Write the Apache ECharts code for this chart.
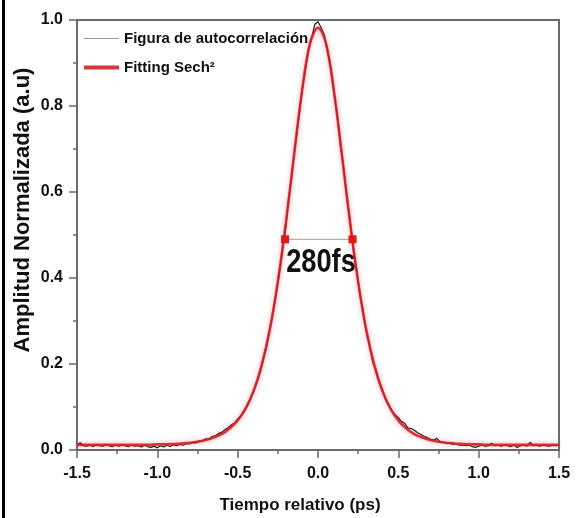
<!DOCTYPE html>
<html>
<head>
<meta charset="utf-8">
<script src="https://cdn.jsdelivr.net/npm/echarts@6/dist/echarts.min.js"></script>
<style>
  html, body { margin: 0; padding: 0; background: #fff; }
  #chart { width: 583px; height: 518px; }
</style>
</head>
<body>
<div id="chart"></div>
<script>
// datos
var seriesNames = ['Figura de autocorrelación', 'Fitting Sech²'];
var xTicks = [-1.5, -1.0, -0.5, 0.0, 0.5, 1.0, 1.5];
var yTicks = [0.0, 0.2, 0.4, 0.6, 0.8, 1.0];

// traza medida, paso 0.02 ps desde -1.5
var measStart = -1.5, measStep = 0.02;
var measValues = [
  0.012, 0.017, 0.010, 0.009, 0.011, 0.008, 0.012, 0.010, 0.009, 0.013,
  0.010, 0.008, 0.011, 0.009, 0.012, 0.010, 0.008, 0.011, 0.009, 0.010,
  0.007, 0.011, 0.008, 0.006, 0.009, 0.005, 0.010, 0.007, 0.011, 0.008,
  0.012, 0.010, 0.013, 0.011, 0.015, 0.014, 0.018, 0.016, 0.021, 0.020,
  0.026, 0.025, 0.031, 0.033, 0.038, 0.041, 0.047, 0.052, 0.058, 0.063,
  0.072, 0.079, 0.091, 0.102, 0.118, 0.137, 0.158, 0.180, 0.212, 0.240,
  0.283, 0.318, 0.366, 0.412, 0.468, 0.520, 0.592, 0.648, 0.715, 0.770,
  0.836, 0.881, 0.930, 0.958, 0.990, 0.996, 0.982, 0.965, 0.925, 0.888,
  0.828, 0.778, 0.708, 0.655, 0.585, 0.532, 0.466, 0.420, 0.362, 0.325,
  0.276, 0.245, 0.205, 0.186, 0.158, 0.142, 0.118, 0.106, 0.091, 0.082,
  0.075, 0.066, 0.062, 0.051, 0.050, 0.046, 0.040, 0.036, 0.032, 0.029,
  0.025, 0.023, 0.027, 0.019, 0.018, 0.015, 0.016, 0.013, 0.014, 0.011,
  0.012, 0.010, 0.011, 0.008, 0.006, 0.009, 0.011, 0.009, 0.010, 0.016,
  0.010, 0.011, 0.009, 0.012, 0.010, 0.008, 0.011, 0.006, 0.010, 0.012,
  0.009, 0.018, 0.010, 0.011, 0.009, 0.012, 0.010, 0.009, 0.011, 0.010,
  0.011
];

// ajuste sech^2, paso 0.05 ps desde -1.5
var fitStart = -1.5, fitStep = 0.05;
var fitValues = [
  0.012, 0.012, 0.012, 0.012, 0.012, 0.012, 0.012, 0.012, 0.012, 0.012,
  0.013, 0.013, 0.014, 0.015, 0.017, 0.019, 0.023, 0.029, 0.037, 0.050,
  0.069, 0.097, 0.138, 0.198, 0.280, 0.391, 0.528, 0.683, 0.833, 0.945,
  0.982,
  0.945, 0.833, 0.683, 0.528, 0.391, 0.280, 0.198, 0.138, 0.097, 0.069,
  0.050, 0.037, 0.029, 0.023, 0.019, 0.017, 0.015, 0.014, 0.013, 0.013,
  0.012, 0.012, 0.012, 0.012, 0.012, 0.012, 0.012, 0.012, 0.012, 0.012
];

// anchura a media altura
var fwhmTimes = [-0.205, 0.215];
var fwhmLevel = 0.49;
var fwhmLabel = '280fs';

function pairs(start, step, vals) {
  var out = [];
  for (var i = 0; i < vals.length; i++) {
    out.push([+(start + i * step).toFixed(3), vals[i]]);
  }
  return out;
}

var font = 'Liberation Sans, Arial, sans-serif';
var axisGray = '#6a6a6a';
var red = '#d3202a';

var chart = echarts.init(document.getElementById('chart'));
chart.setOption({
  animation: false,
  backgroundColor: '#fff',
  grid: {
    left: 77, right: 24, top: 20, bottom: 68,
    show: true, borderColor: axisGray, borderWidth: 2
  },
  legend: {
    orient: 'vertical',
    left: 77, top: 26,
    itemWidth: 35, itemHeight: 14, itemGap: 14,
    textStyle: { fontFamily: font, fontWeight: 'bold', fontSize: 15, color: '#111' },
    data: [
      { name: seriesNames[0], itemStyle: { opacity: 0 }, lineStyle: { color: '#9a9a9a', width: 1 } },
      { name: seriesNames[1], itemStyle: { opacity: 0 }, lineStyle: { color: red, width: 4 } }
    ]
  },
  xAxis: {
    type: 'value',
    min: xTicks[0], max: xTicks[xTicks.length - 1], interval: 0.5,
    axisLine: { onZero: false, lineStyle: { color: axisGray, width: 2 } },
    axisTick: { inside: false, length: 8, lineStyle: { color: axisGray, width: 1.5 } },
    minorTick: { show: true, splitNumber: 2, length: 4, lineStyle: { color: axisGray, width: 1.5 } },
    splitLine: { show: false },
    axisLabel: {
      margin: 16,
      fontFamily: font, fontWeight: 'bold', fontSize: 16, color: '#111',
      formatter: function (v) { return v.toFixed(1); }
    }
  },
  yAxis: {
    type: 'value',
    min: yTicks[0], max: yTicks[yTicks.length - 1], interval: 0.2,
    axisLine: { show: true, onZero: false, lineStyle: { color: axisGray, width: 2 } },
    axisTick: { show: true, inside: false, length: 8, lineStyle: { color: axisGray, width: 1.5 } },
    minorTick: { show: true, splitNumber: 2, length: 4, lineStyle: { color: axisGray, width: 1.5 } },
    splitLine: { show: false },
    axisLabel: {
      margin: 14,
      fontFamily: font, fontWeight: 'bold', fontSize: 16, color: '#111',
      formatter: function (v) { return v.toFixed(1); }
    }
  },
  series: [
    {
      name: seriesNames[0],
      type: 'line',
      showSymbol: false,
      symbol: 'none',
      data: pairs(measStart, measStep, measValues),
      lineStyle: { color: '#1a1a1a', width: 1.2 },
      itemStyle: { color: '#1a1a1a' },
      z: 2
    },
    {
      name: seriesNames[1],
      type: 'line',
      showSymbol: false,
      symbol: 'none',
      smooth: 0.35,
      data: pairs(fitStart, fitStep, fitValues),
      lineStyle: {
        color: red, width: 2.6, opacity: 0.9,
        shadowColor: 'rgba(220,40,40,0.45)', shadowBlur: 5
      },
      itemStyle: { color: red },
      z: 3
    },
    {
      name: 'fwhm',
      type: 'line',
      symbol: 'rect',
      symbolSize: 8,
      data: fwhmTimes.map(function (t) { return [t, fwhmLevel]; }),
      lineStyle: { color: '#b89090', width: 1 },
      itemStyle: { color: '#e01818' },
      z: 4
    }
  ],
  graphic: [
    { type: 'rect', left: 2, top: 0, shape: { width: 3, height: 518 }, style: { fill: '#000' } },
    {
      type: 'text', x: 321, y: 263, scaleX: 0.8,
      style: { text: fwhmLabel, font: 'bold 34px Liberation Sans, Arial', fill: '#111', align: 'center', verticalAlign: 'middle' }
    },
    {
      type: 'text', x: 300, y: 505,
      style: { text: 'Tiempo relativo (ps)', font: 'bold 17px Liberation Sans, Arial', fill: '#111', align: 'center', verticalAlign: 'middle' }
    },
    {
      type: 'text', x: 23, y: 210, rotation: Math.PI / 2,
      style: { text: 'Amplitud Normalizada (a.u)', font: 'bold 22px Liberation Sans, Arial', fill: '#111', align: 'center', verticalAlign: 'middle' }
    }
  ]
});
</script>
</body>
</html>
